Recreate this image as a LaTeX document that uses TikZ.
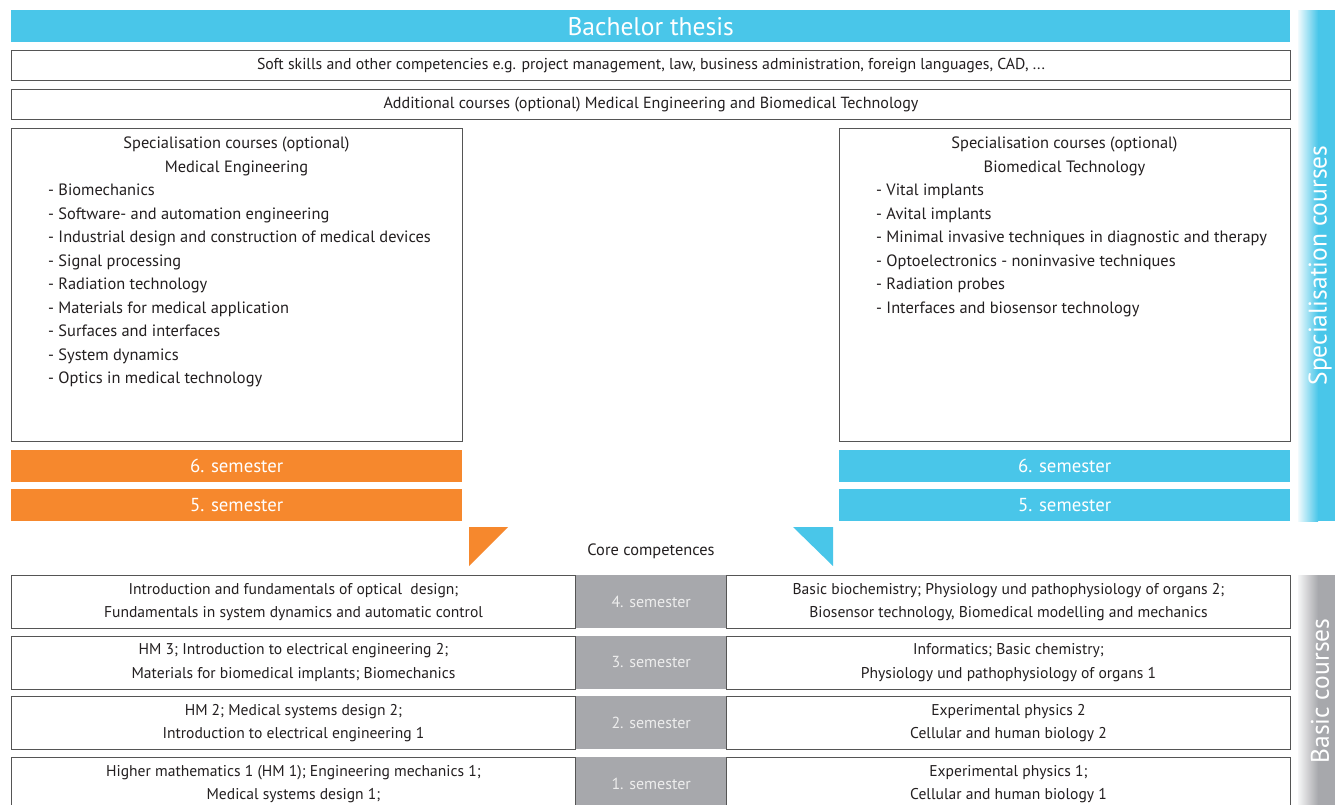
\documentclass[tikz,border=0pt]{standalone}
\usepackage{fontspec}
\setmainfont{PT Sans}
\definecolor{cyanC}{HTML}{49C6E9}
\definecolor{orangeC}{HTML}{F6882D}
\definecolor{grayC}{HTML}{A7A8AC}
\definecolor{textC}{HTML}{231F20}
\definecolor{borderC}{HTML}{555555}
\definecolor{semtext}{HTML}{EDEDED}
\tikzset{
  box/.style={draw=borderC, line width=1pt, fill=white, inner sep=0pt, anchor=north west, text=textC, align=center, font=\fontsize{15.6}{23.5}\selectfont},
  bar/.style={inner sep=0pt, anchor=north west, text=white, font=\fontsize{18.8}{22}\selectfont},
  semgray/.style={fill=grayC, inner sep=0pt, anchor=north west, text=semtext, font=\fontsize{16}{18}\selectfont},
  txt/.style={inner sep=0pt, text=textC, font=\fontsize{16.4}{23.5}\selectfont},
  sidelabel/.style={rotate=90, text=white, inner sep=0pt, font=\fontsize{25.5}{28}\selectfont}
}
\begin{document}
\begin{tikzpicture}[x=1pt,y=-1pt]
\useasboundingbox (0,0) rectangle (1337,804);
\clip (0,0) rectangle (1337,804);
\fill[white] (0,0) rectangle (1337,804);

% top bars
\node[bar, fill=cyanC, minimum width=1279pt, minimum height=32pt, font=\fontsize{25.5}{28}\selectfont] (thesis) at (11,10) {Bachelor thesis};
\node[box, minimum width=1279pt, minimum height=30pt, font=\fontsize{15.8}{20}\selectfont] (soft) at (11,50) {Soft skills and other competencies e.g. project management, law, business administration, foreign languages, CAD, ...};
\node[box, minimum width=1279pt, minimum height=30pt, font=\fontsize{16.1}{20}\selectfont] (addit) at (11,89) {Additional courses (optional) Medical Engineering and Biomedical Technology};

% specialisation boxes (base anchor = baseline of the last line)
\node[box, minimum width=451pt, minimum height=313pt] (specL) at (11,128) {};
\node[txt, align=center, anchor=base] (specLh) at (236.5,172) {Specialisation courses (optional)\\Medical Engineering};
\node[txt, align=left, anchor=base west] (specLl) at (48,383.5) {- Biomechanics\\- Software- and automation engineering\\- Industrial design and construction of medical devices\\- Signal processing\\- Radiation technology\\- Materials for medical application\\- Surfaces and interfaces\\- System dynamics\\- Optics in medical technology};

\node[box, minimum width=451pt, minimum height=313pt] (specR) at (839,128) {};
\node[txt, align=center, anchor=base] (specRh) at (1064.5,172) {Specialisation courses (optional)\\Biomedical Technology};
\node[txt, align=left, anchor=base west] (specRl) at (876,313) {- Vital implants\\- Avital implants\\- Minimal invasive techniques in diagnostic and therapy\\- Optoelectronics - noninvasive techniques\\- Radiation probes\\- Interfaces and biosensor technology};

% semester bars
\node[bar, fill=orangeC, minimum width=451pt, minimum height=32pt] (l6) at (11,450) {6. semester};
\node[bar, fill=orangeC, minimum width=451pt, minimum height=32pt] (l5) at (11,489) {5. semester};
\node[bar, fill=cyanC, minimum width=451pt, minimum height=32pt] (r6) at (839,450) {6. semester};
\node[bar, fill=cyanC, minimum width=451pt, minimum height=32pt] (r5) at (839,489) {5. semester};

% triangles
\fill[orangeC] (469,527) -- (508,527) -- (469,566) -- cycle;
\fill[cyanC] (793,527) -- (833,527) -- (833,566) -- cycle;
\node[txt] (core) at (651,551) {Core competences};

% side bars
\fill[cyanC] (1298,10) rectangle (1335,521);
\shade[left color=cyanC!8, right color=cyanC] (1298,10) rectangle (1318,521);
\node[sidelabel] (spectxt) at (1320,265.5) {Specialisation courses};
\fill[grayC] (1298,575) rectangle (1335,810);
\shade[left color=grayC!10, right color=grayC] (1298,575) rectangle (1318,810);
\node[sidelabel] (basictxt) at (1320,691) {Basic courses};

% basic rows
\node[box, minimum width=564pt, minimum height=53pt] (b4l) at (11,575) {Introduction and fundamentals of optical \ design;\\Fundamentals in system dynamics and automatic control};
\node[semgray, minimum width=150pt, minimum height=53pt] (b4m) at (576,575) {4. semester};
\node[box, minimum width=564pt, minimum height=53pt] (b4r) at (726,575) {Basic biochemistry; Physiology und pathophysiology of organs 2;\\Biosensor technology, Biomedical modelling and mechanics};

\node[box, minimum width=564pt, minimum height=53pt] (b3l) at (11,635.5) {HM 3; Introduction to electrical engineering 2;\\Materials for biomedical implants; Biomechanics};
\node[semgray, minimum width=150pt, minimum height=53pt] (b3m) at (576,635.5) {3. semester};
\node[box, minimum width=564pt, minimum height=53pt] (b3r) at (726,635.5) {Informatics; Basic chemistry;\\Physiology und pathophysiology of organs 1};

\node[box, minimum width=564pt, minimum height=53pt] (b2l) at (11,696) {HM 2; Medical systems design 2;\\Introduction to electrical engineering 1};
\node[semgray, minimum width=150pt, minimum height=53pt] (b2m) at (576,696) {2. semester};
\node[box, minimum width=564pt, minimum height=53pt] (b2r) at (726,696) {Experimental physics 2\\Cellular and human biology 2};

\node[box, minimum width=564pt, minimum height=53pt] (b1l) at (11,757) {Higher mathematics 1 (HM 1); Engineering mechanics 1;\\Medical systems design 1;};
\node[semgray, minimum width=150pt, minimum height=53pt] (b1m) at (576,757) {1. semester};
\node[box, minimum width=564pt, minimum height=53pt] (b1r) at (726,757) {Experimental physics 1;\\Cellular and human biology 1};
\end{tikzpicture}
\end{document}
